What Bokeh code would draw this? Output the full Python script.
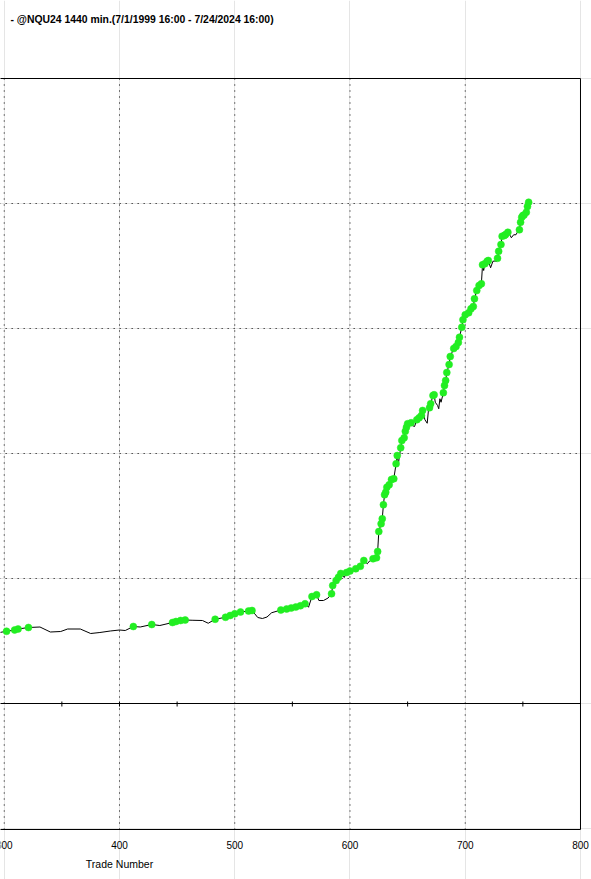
from bokeh.plotting import figure
from bokeh.models import Range1d
from bokeh.core.properties import value
from bokeh.embed import file_html
from bokeh.resources import INLINE

# ---- data ----
trade = [296, 302, 309, 312, 321, 331, 340, 349, 355, 366, 375, 383, 392, 400, 405,
         412, 418, 428, 435, 446, 449, 453, 457, 463, 472, 477, 483, 492, 496, 500,
         505, 512, 515, 520, 524, 528, 532, 540, 545, 549, 553, 557, 561, 564, 567,
         571, 573, 577, 581, 584, 585, 588, 590, 592, 595, 597, 600, 605, 609, 612,
         615, 617, 620, 623, 624, 625, 627, 628, 629, 630, 631, 632, 634, 636, 638,
         640, 641, 642, 644, 645, 647, 648, 649, 650, 653, 654, 656, 658, 660, 662,
         663, 665, 667, 668, 669, 670, 672, 673, 674, 676, 677, 678, 679, 681, 682,
         683, 684, 686, 687, 690, 692, 694, 695, 697, 698, 700, 703, 705, 707, 708,
         710, 712, 714, 715, 716, 717, 719, 720, 722, 724, 726, 727, 728, 729, 731,
         732, 734, 735, 737, 739, 740, 742, 744, 745, 747, 748, 749, 750, 751, 753,
         754, 755]
equity = [56800, 57800, 58800, 59600, 60800, 61200, 57200, 57600, 59600, 59600, 56000, 56800, 58000, 58800, 58400,
          61600, 61200, 63200, 62400, 64800, 65600, 66400, 66800, 66600, 66400, 64200, 67400, 69000, 70400, 71800,
          73200, 74000, 74400, 68800, 68000, 69200, 72600, 74800, 75600, 76400, 77200, 78200, 79800, 77000, 85600,
          87000, 82400, 82400, 84400, 87800, 94400, 98400, 101000, 104000, 100800, 104800, 106000, 107800, 109800, 114400,
          111800, 114000, 115800, 116600, 121600, 137600, 143800, 147800, 159000, 167000, 169000, 173000, 175000, 179200, 179800,
          191800, 198400, 192000, 204600, 210400, 212600, 217800, 221000, 223800, 224600, 222400, 221600, 227000, 228600, 230400,
          234400, 227000, 224200, 234000, 236600, 239800, 246400, 247000, 241000, 238400, 235800, 243800, 241000, 248600, 254400,
          258400, 264800, 271200, 277600, 284000, 285600, 288800, 293000, 301000, 307000, 311000, 312600, 315800, 317600, 323800,
          330400, 334400, 335800, 351000, 346400, 351800, 353800, 354400, 348600, 353800, 354000, 353600, 356200, 361800, 367200,
          373800, 374400, 375200, 377000, 374400, 372600, 375000, 375000, 376600, 379000, 385000, 389000, 390400, 390800, 393000,
          397600, 401000]
new_high_trades = [302, 309, 312, 321, 412, 428, 446, 449, 453, 457, 483, 492, 496, 500, 505, 512, 515,
                   540, 545, 549, 553, 557, 561, 567, 571, 584, 585, 588, 590, 592, 597, 600, 605, 609,
                   612, 620, 623, 624, 625, 627, 628, 629, 630, 631, 632, 634, 636, 638, 640, 641, 644,
                   645, 647, 648, 649, 650, 653, 658, 660, 662, 663, 669, 670, 672, 673, 681, 682, 683,
                   684, 686, 687, 690, 692, 694, 695, 697, 698, 700, 703, 705, 707, 708, 710, 712, 714,
                   715, 717, 719, 720, 728, 729, 731, 732, 734, 735, 737, 747, 748, 749, 750, 751, 753,
                   754, 755]
lookup = dict(zip(trade, equity))
new_high_equity = [lookup[t] for t in new_high_trades]

grid_x = [300, 400, 500, 600, 700]
grid_y = [100000, 200000, 300000, 400000]
tick_label_x = [300, 400, 500, 600, 700, 800]
tick_label_text = ["300", "400", "500", "600", "700", "800"]
zero_ticks = [350, 400, 450, 550, 650, 750]
title_text = "- @NQU24 1440 min.(7/1/1999 16:00 - 7/24/2024 16:00)"
xlabel_text = "Trade Number"

# plot area (data units)
X_LEFT, X_RIGHT = 296.0, 800.0
Y_TOP, Y_ZERO, Y_BOTTOM = 500000, 0, -100800
# canvas extent (data units)
CX0, CX1 = 296.75, 809.55
CY0, CY1 = -140800, 562400
FONT = "Liberation Sans"

p = figure(width=591, height=879, x_range=Range1d(CX0, CX1), y_range=Range1d(CY0, CY1),
           output_backend="svg", toolbar_location=None, title=None,
           x_axis_location=None, y_axis_location=None, min_border=0)
p.outline_line_color = None
p.background_fill_color = "white"
p.border_fill_color = "white"

# dotted grid
p.segment(x0=grid_x, y0=[Y_BOTTOM] * len(grid_x), x1=grid_x, y1=[Y_TOP] * len(grid_x),
          line_color="black", line_width=1, line_dash="1 5")
p.segment(x0=[X_LEFT] * len(grid_y), y0=grid_y, x1=[X_RIGHT] * len(grid_y), y1=grid_y,
          line_color="black", line_width=1, line_dash="1 5")

# frame borders (top, zero separator, bottom, right)
p.segment(x0=[X_LEFT, X_LEFT, X_LEFT, X_RIGHT], y0=[Y_TOP, Y_ZERO, Y_BOTTOM, Y_TOP],
          x1=[X_RIGHT, X_RIGHT, X_RIGHT, X_RIGHT], y1=[Y_TOP, Y_ZERO, Y_BOTTOM, Y_BOTTOM],
          line_color="black", line_width=1)

# small ticks on the separator
p.segment(x0=zero_ticks, y0=[1600] * len(zero_ticks), x1=zero_ticks, y1=[-2400] * len(zero_ticks),
          line_color="black", line_width=1)

# equity curve and new equity highs
p.line(trade, equity, line_color="black", line_width=1)
p.scatter(new_high_trades, new_high_equity, size=7, fill_color="#22EE22",
          line_color="#22EE22", line_width=0.5)

# texts
p.text(x=tick_label_x, y=[-112800] * len(tick_label_x), text=tick_label_text,
       text_font=value(FONT), text_font_size="10px", text_align="center",
       text_baseline="alphabetic", text_color="black")
p.text(x=[400], y=[-128400], text=[xlabel_text], text_font=value(FONT), text_font_size="10.5px",
       text_align="center", text_baseline="alphabetic", text_color="black")
p.text(x=[305.4], y=[547200], text=[title_text], text_font=value(FONT), text_font_size="10.4px",
       text_font_style="bold", text_align="left", text_baseline="alphabetic", text_color="black")

open("out.html", "w").write(file_html(p, INLINE))
